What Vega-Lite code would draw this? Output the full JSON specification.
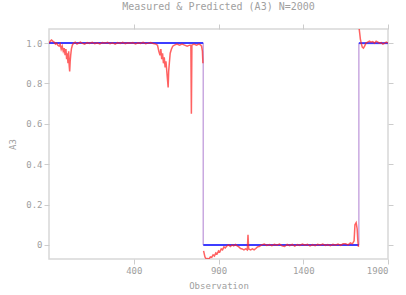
{
  "$schema": "https://vega.github.io/schema/vega-lite/v6.json",
  "width": 339,
  "height": 230,
  "autosize": {"type": "none"},
  "padding": {"left": 49, "top": 29, "right": 18, "bottom": 36},
  "background": "white",
  "config": {
    "view": {"stroke": "#d8d8d8", "strokeWidth": 1.5},
    "font": "DejaVu Sans Mono",
    "axis": {
      "labelFont": "DejaVu Sans Mono", "labelFontSize": 9, "labelColor": "#a0a0a0",
      "titleFont": "DejaVu Sans Mono", "titleFontSize": 9, "titleColor": "#a0a0a0", "titleFontWeight": "normal",
      "domain": false, "grid": false, "tickColor": "#cccccc", "tickSize": 5, "labelPadding": 2
    },
    "title": {"font": "DejaVu Sans Mono", "fontSize": 10, "color": "#a0a0a0", "fontWeight": "normal"}
  },
  "title": {"text": "Measured & Predicted (A3) N=2000", "anchor": "middle", "offset": 12},
  "datasets": {
    "predh": [
      {"x": -100, "x2": 810, "y": 1.0}, {"x": 810, "x2": 1728, "y": 0.0}, {"x": 1728, "x2": 1900, "y": 1.0}
    ],
    "predv": [
      {"x": 810, "y": 1.0, "y2": 0.0}, {"x": 1728, "y": 0.0, "y2": 1.0}
    ],
    "meas": [
      {"s": 1, "i": 1, "x": -100, "y": 1.0}, {"s": 1, "i": 2, "x": -92, "y": 1.01}, {"s": 1, "i": 3, "x": -85, "y": 1.015},
      {"s": 1, "i": 4, "x": -78, "y": 1.01}, {"s": 1, "i": 5, "x": -70, "y": 1.005}, {"s": 1, "i": 6, "x": -62, "y": 0.995},
      {"s": 1, "i": 7, "x": -55, "y": 1.0}, {"s": 1, "i": 8, "x": -48, "y": 0.99}, {"s": 1, "i": 9, "x": -40, "y": 0.985},
      {"s": 1, "i": 10, "x": -34, "y": 0.995}, {"s": 1, "i": 11, "x": -28, "y": 0.97}, {"s": 1, "i": 12, "x": -22, "y": 0.985},
      {"s": 1, "i": 13, "x": -16, "y": 0.96}, {"s": 1, "i": 14, "x": -10, "y": 0.975}, {"s": 1, "i": 15, "x": -5, "y": 0.94},
      {"s": 1, "i": 16, "x": 0, "y": 0.97}, {"s": 1, "i": 17, "x": 4, "y": 0.92}, {"s": 1, "i": 18, "x": 8, "y": 0.95},
      {"s": 1, "i": 19, "x": 12, "y": 0.9}, {"s": 1, "i": 20, "x": 16, "y": 0.96}, {"s": 1, "i": 21, "x": 19, "y": 0.89},
      {"s": 1, "i": 22, "x": 22, "y": 0.86}, {"s": 1, "i": 23, "x": 25, "y": 0.91}, {"s": 1, "i": 24, "x": 28, "y": 0.94},
      {"s": 1, "i": 25, "x": 32, "y": 0.97}, {"s": 1, "i": 26, "x": 38, "y": 0.99}, {"s": 1, "i": 27, "x": 45, "y": 1.0},
      {"s": 1, "i": 28, "x": 55, "y": 1.005}, {"s": 1, "i": 29, "x": 65, "y": 0.995}, {"s": 1, "i": 30, "x": 75, "y": 1.0},
      {"s": 1, "i": 31, "x": 85, "y": 1.005}, {"s": 1, "i": 32, "x": 95, "y": 1.0}, {"s": 1, "i": 33, "x": 110, "y": 0.995},
      {"s": 1, "i": 34, "x": 125, "y": 1.003}, {"s": 1, "i": 35, "x": 140, "y": 0.998}, {"s": 1, "i": 36, "x": 155, "y": 1.004},
      {"s": 1, "i": 37, "x": 170, "y": 0.997}, {"s": 1, "i": 38, "x": 185, "y": 1.002}, {"s": 1, "i": 39, "x": 200, "y": 0.996},
      {"s": 1, "i": 40, "x": 215, "y": 1.003}, {"s": 1, "i": 41, "x": 230, "y": 0.999}, {"s": 1, "i": 42, "x": 245, "y": 1.004},
      {"s": 1, "i": 43, "x": 260, "y": 0.997}, {"s": 1, "i": 44, "x": 275, "y": 1.002}, {"s": 1, "i": 45, "x": 290, "y": 0.995},
      {"s": 1, "i": 46, "x": 305, "y": 1.003}, {"s": 1, "i": 47, "x": 320, "y": 0.998}, {"s": 1, "i": 48, "x": 335, "y": 1.004},
      {"s": 1, "i": 49, "x": 350, "y": 0.997}, {"s": 1, "i": 50, "x": 365, "y": 1.002}, {"s": 1, "i": 51, "x": 380, "y": 0.999},
      {"s": 1, "i": 52, "x": 395, "y": 1.003}, {"s": 1, "i": 53, "x": 410, "y": 0.996}, {"s": 1, "i": 54, "x": 425, "y": 1.002},
      {"s": 1, "i": 55, "x": 440, "y": 0.998}, {"s": 1, "i": 56, "x": 455, "y": 1.004}, {"s": 1, "i": 57, "x": 470, "y": 0.997},
      {"s": 1, "i": 58, "x": 485, "y": 1.0}, {"s": 1, "i": 59, "x": 500, "y": 1.003}, {"s": 1, "i": 60, "x": 515, "y": 0.998},
      {"s": 1, "i": 61, "x": 530, "y": 0.995}, {"s": 1, "i": 62, "x": 540, "y": 0.99}, {"s": 1, "i": 63, "x": 548, "y": 0.96},
      {"s": 1, "i": 64, "x": 555, "y": 0.94}, {"s": 1, "i": 65, "x": 560, "y": 0.97}, {"s": 1, "i": 66, "x": 565, "y": 0.92},
      {"s": 1, "i": 67, "x": 570, "y": 0.95}, {"s": 1, "i": 68, "x": 575, "y": 0.9}, {"s": 1, "i": 69, "x": 580, "y": 0.93},
      {"s": 1, "i": 70, "x": 585, "y": 0.88}, {"s": 1, "i": 71, "x": 590, "y": 0.91}, {"s": 1, "i": 72, "x": 595, "y": 0.86},
      {"s": 1, "i": 73, "x": 600, "y": 0.81}, {"s": 1, "i": 74, "x": 603, "y": 0.78}, {"s": 1, "i": 75, "x": 606, "y": 0.86},
      {"s": 1, "i": 76, "x": 610, "y": 0.9}, {"s": 1, "i": 77, "x": 615, "y": 0.95}, {"s": 1, "i": 78, "x": 622, "y": 0.97},
      {"s": 1, "i": 79, "x": 630, "y": 0.985}, {"s": 1, "i": 80, "x": 640, "y": 0.99}, {"s": 1, "i": 81, "x": 655, "y": 0.995},
      {"s": 1, "i": 82, "x": 670, "y": 0.99}, {"s": 1, "i": 83, "x": 685, "y": 0.995}, {"s": 1, "i": 84, "x": 700, "y": 0.99},
      {"s": 1, "i": 85, "x": 715, "y": 0.985}, {"s": 1, "i": 86, "x": 730, "y": 0.99}, {"s": 1, "i": 87, "x": 737, "y": 0.99},
      {"s": 1, "i": 88, "x": 740, "y": 0.65}, {"s": 1, "i": 89, "x": 743, "y": 0.99}, {"s": 1, "i": 90, "x": 755, "y": 0.995},
      {"s": 1, "i": 91, "x": 770, "y": 0.99}, {"s": 1, "i": 92, "x": 785, "y": 0.995}, {"s": 1, "i": 93, "x": 795, "y": 0.99},
      {"s": 1, "i": 94, "x": 800, "y": 0.985}, {"s": 1, "i": 95, "x": 805, "y": 0.96}, {"s": 1, "i": 96, "x": 808, "y": 0.9},
      {"s": 2, "i": 98, "x": 812, "y": -0.03}, {"s": 2, "i": 99, "x": 820, "y": -0.06},
      {"s": 2, "i": 100, "x": 828, "y": -0.07}, {"s": 2, "i": 101, "x": 836, "y": -0.068}, {"s": 2, "i": 102, "x": 844, "y": -0.07},
      {"s": 2, "i": 103, "x": 852, "y": -0.06}, {"s": 2, "i": 104, "x": 860, "y": -0.062}, {"s": 2, "i": 105, "x": 868, "y": -0.05},
      {"s": 2, "i": 106, "x": 876, "y": -0.055}, {"s": 2, "i": 107, "x": 884, "y": -0.04}, {"s": 2, "i": 108, "x": 892, "y": -0.045},
      {"s": 2, "i": 109, "x": 900, "y": -0.03}, {"s": 2, "i": 110, "x": 908, "y": -0.035}, {"s": 2, "i": 111, "x": 916, "y": -0.02},
      {"s": 2, "i": 112, "x": 924, "y": -0.025}, {"s": 2, "i": 113, "x": 932, "y": -0.01}, {"s": 2, "i": 114, "x": 940, "y": -0.015},
      {"s": 2, "i": 115, "x": 950, "y": -0.005}, {"s": 2, "i": 116, "x": 960, "y": 0.0}, {"s": 2, "i": 117, "x": 970, "y": -0.008},
      {"s": 2, "i": 118, "x": 980, "y": 0.0}, {"s": 2, "i": 119, "x": 990, "y": -0.005}, {"s": 2, "i": 120, "x": 1000, "y": 0.002},
      {"s": 2, "i": 121, "x": 1010, "y": -0.005}, {"s": 2, "i": 122, "x": 1020, "y": -0.01}, {"s": 2, "i": 123, "x": 1030, "y": -0.018},
      {"s": 2, "i": 124, "x": 1040, "y": -0.02}, {"s": 2, "i": 125, "x": 1050, "y": -0.025}, {"s": 2, "i": 126, "x": 1060, "y": -0.02},
      {"s": 2, "i": 127, "x": 1070, "y": -0.025}, {"s": 2, "i": 128, "x": 1074, "y": 0.05}, {"s": 2, "i": 129, "x": 1078, "y": -0.02},
      {"s": 2, "i": 130, "x": 1090, "y": -0.025}, {"s": 2, "i": 131, "x": 1100, "y": -0.02}, {"s": 2, "i": 132, "x": 1110, "y": -0.025},
      {"s": 2, "i": 133, "x": 1120, "y": -0.018}, {"s": 2, "i": 134, "x": 1130, "y": -0.01}, {"s": 2, "i": 135, "x": 1140, "y": -0.008},
      {"s": 2, "i": 136, "x": 1155, "y": 0.0}, {"s": 2, "i": 137, "x": 1170, "y": 0.004}, {"s": 2, "i": 138, "x": 1185, "y": -0.003},
      {"s": 2, "i": 139, "x": 1200, "y": 0.002}, {"s": 2, "i": 140, "x": 1215, "y": -0.004}, {"s": 2, "i": 141, "x": 1230, "y": 0.003},
      {"s": 2, "i": 142, "x": 1245, "y": -0.002}, {"s": 2, "i": 143, "x": 1260, "y": 0.004}, {"s": 2, "i": 144, "x": 1275, "y": -0.005},
      {"s": 2, "i": 145, "x": 1290, "y": -0.008}, {"s": 2, "i": 146, "x": 1305, "y": 0.002}, {"s": 2, "i": 147, "x": 1320, "y": -0.004},
      {"s": 2, "i": 148, "x": 1335, "y": 0.003}, {"s": 2, "i": 149, "x": 1350, "y": -0.006}, {"s": 2, "i": 150, "x": 1365, "y": 0.002},
      {"s": 2, "i": 151, "x": 1380, "y": -0.003}, {"s": 2, "i": 152, "x": 1395, "y": 0.004}, {"s": 2, "i": 153, "x": 1410, "y": -0.002},
      {"s": 2, "i": 154, "x": 1425, "y": 0.003}, {"s": 2, "i": 155, "x": 1440, "y": -0.005}, {"s": 2, "i": 156, "x": 1455, "y": 0.002},
      {"s": 2, "i": 157, "x": 1470, "y": -0.004}, {"s": 2, "i": 158, "x": 1485, "y": 0.003}, {"s": 2, "i": 159, "x": 1500, "y": -0.002},
      {"s": 2, "i": 160, "x": 1515, "y": 0.004}, {"s": 2, "i": 161, "x": 1530, "y": -0.003}, {"s": 2, "i": 162, "x": 1545, "y": 0.002},
      {"s": 2, "i": 163, "x": 1560, "y": -0.004}, {"s": 2, "i": 164, "x": 1575, "y": 0.003}, {"s": 2, "i": 165, "x": 1590, "y": -0.002},
      {"s": 2, "i": 166, "x": 1605, "y": 0.004}, {"s": 2, "i": 167, "x": 1620, "y": -0.003}, {"s": 2, "i": 168, "x": 1635, "y": 0.005},
      {"s": 2, "i": 169, "x": 1650, "y": 0.005}, {"s": 2, "i": 170, "x": 1665, "y": 0.0}, {"s": 2, "i": 171, "x": 1678, "y": 0.01},
      {"s": 2, "i": 172, "x": 1690, "y": 0.005}, {"s": 2, "i": 173, "x": 1700, "y": 0.02}, {"s": 2, "i": 174, "x": 1705, "y": 0.1},
      {"s": 2, "i": 175, "x": 1712, "y": 0.11}, {"s": 2, "i": 176, "x": 1718, "y": 0.08}, {"s": 2, "i": 177, "x": 1722, "y": 0.02},
      {"s": 2, "i": 178, "x": 1726, "y": -0.01},
      {"s": 3, "i": 180, "x": 1730, "y": 1.07},
      {"s": 3, "i": 181, "x": 1733, "y": 1.05}, {"s": 3, "i": 182, "x": 1737, "y": 1.02}, {"s": 3, "i": 183, "x": 1742, "y": 1.0},
      {"s": 3, "i": 184, "x": 1748, "y": 0.98}, {"s": 3, "i": 185, "x": 1755, "y": 0.975}, {"s": 3, "i": 186, "x": 1762, "y": 0.985},
      {"s": 3, "i": 187, "x": 1770, "y": 1.0}, {"s": 3, "i": 188, "x": 1780, "y": 1.005}, {"s": 3, "i": 189, "x": 1790, "y": 1.01},
      {"s": 3, "i": 190, "x": 1800, "y": 1.005}, {"s": 3, "i": 191, "x": 1810, "y": 1.008}, {"s": 3, "i": 192, "x": 1820, "y": 1.0},
      {"s": 3, "i": 193, "x": 1830, "y": 1.01}, {"s": 3, "i": 194, "x": 1840, "y": 1.005}, {"s": 3, "i": 195, "x": 1850, "y": 1.0},
      {"s": 3, "i": 196, "x": 1860, "y": 1.003}, {"s": 3, "i": 197, "x": 1870, "y": 0.995}, {"s": 3, "i": 198, "x": 1880, "y": 1.0},
      {"s": 3, "i": 199, "x": 1890, "y": 1.005}, {"s": 3, "i": 200, "x": 1900, "y": 1.0}
    ]
  },
  "layer": [
    {
      "data": {"name": "predv"},
      "mark": {"type": "rule", "color": "#c9a9e0", "strokeWidth": 1.5},
      "encoding": {
        "x": {"field": "x", "type": "quantitative", "scale": {"domain": [-100, 1900], "nice": false, "zero": false},
          "axis": {"orient": "bottom", "values": [400, 900, 1400, 1900], "format": "d", "title": "Observation", "titlePadding": 6}},
        "y": {"field": "y", "type": "quantitative", "scale": {"domain": [-0.07, 1.07], "nice": false, "zero": false},
          "axis": {"orient": "left", "values": [0, 0.2, 0.4, 0.6, 0.8, 1.0], "title": "A3", "titlePadding": 8,
            "labelExpr": "datum.value == 0 ? '0' : format(datum.value, '.1f')"}},
        "y2": {"field": "y2"}
      }
    },
    {
      "data": {"name": "predh"},
      "mark": {"type": "rule", "color": "#3d3dff", "strokeWidth": 2},
      "encoding": {
        "x": {"field": "x", "type": "quantitative",
          "axis": {"orient": "top", "values": [400, 900, 1400, 1900], "labels": false, "title": null}},
        "x2": {"field": "x2"},
        "y": {"field": "y", "type": "quantitative",
          "axis": {"orient": "right", "values": [0, 0.2, 0.4, 0.6, 0.8, 1.0], "labels": false, "title": null}}
      }
    },
    {
      "data": {"name": "meas"},
      "mark": {"type": "line", "color": "#ff2020", "strokeWidth": 1.5, "opacity": 0.7, "clip": true},
      "encoding": {
        "x": {"field": "x", "type": "quantitative", "axis": null},
        "y": {"field": "y", "type": "quantitative", "axis": null},
        "detail": {"field": "s", "type": "nominal"},
        "order": {"field": "i", "type": "quantitative"}
      }
    }
  ],
  "resolve": {"axis": {"x": "independent", "y": "independent"}}
}
